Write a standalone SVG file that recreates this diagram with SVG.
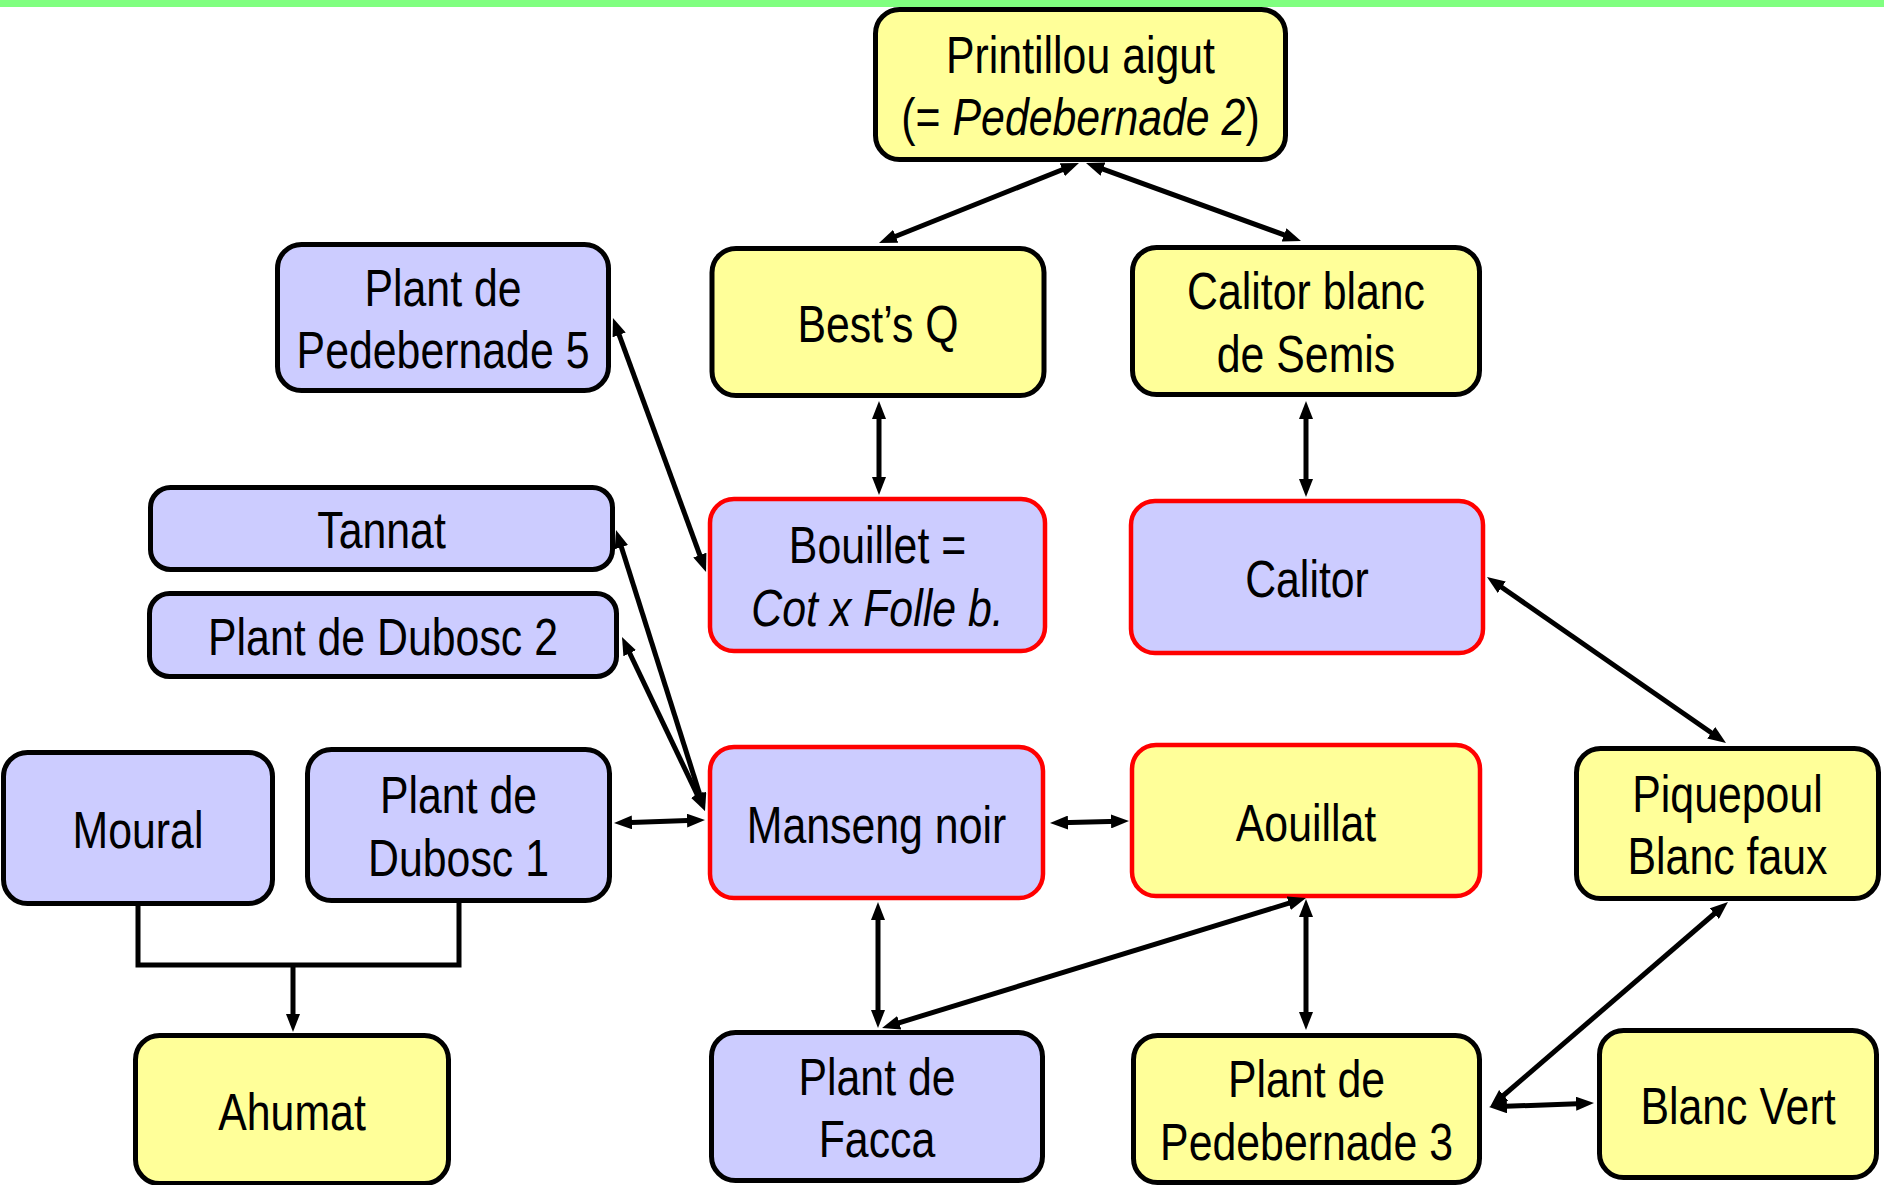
<svg xmlns="http://www.w3.org/2000/svg" width="1884" height="1185" viewBox="0 0 1884 1185">
<style>
.y{fill:#FFFF99;stroke:#000;stroke-width:5}
.b{fill:#CCCCFF;stroke:#000;stroke-width:5}
.r{stroke:#FF0000;stroke-width:4.5}
.t{font-family:"Liberation Sans",Arial,sans-serif;font-size:51px;fill:#000;text-anchor:middle}
.i{font-style:italic}
.c{fill:none;stroke:#000;stroke-width:5}
</style>
<defs>
<marker id="ah" viewBox="0 0 18 14" refX="8" refY="7" markerWidth="18" markerHeight="14" markerUnits="userSpaceOnUse" orient="auto-start-reverse"><path d="M0,0 L18,7 L0,14 z" fill="#000"/></marker>
</defs>
<rect x="0" y="0" width="1884" height="7" fill="#80FF80"/>

<g id="printillou"><rect class="y" x="875.5" y="9.5" width="410" height="150" rx="24"/>
<text class="t" transform="translate(1080.5,72.5) scale(0.84,1)"><tspan x="0" y="0">Printillou aigut</tspan><tspan x="0" y="63">(= <tspan class="i">Pedebernade 2</tspan>)</tspan></text></g>

<g id="pedebernade5"><rect class="b" x="277.5" y="244.5" width="331" height="146" rx="24"/>
<text class="t" transform="translate(443,305.5) scale(0.84,1)"><tspan x="0" y="0">Plant de</tspan><tspan x="0" y="63">Pedebernade 5</tspan></text></g>

<g id="bestsq"><rect class="y" x="712" y="248.5" width="332" height="147" rx="24"/>
<text class="t" transform="translate(878,342) scale(0.84,1)">Best’s Q</text></g>

<g id="calitorblanc"><rect class="y" x="1132.5" y="247.5" width="347" height="147" rx="24"/>
<text class="t" transform="translate(1306,309) scale(0.84,1)"><tspan x="0" y="0">Calitor blanc</tspan><tspan x="0" y="63">de Semis</tspan></text></g>

<g id="tannat"><rect class="b" x="150.5" y="487.5" width="462" height="82" rx="20"/>
<text class="t" transform="translate(381.5,548) scale(0.84,1)">Tannat</text></g>

<g id="bouillet"><rect class="b r" x="710" y="499" width="335" height="152" rx="24"/>
<text class="t" transform="translate(877.5,563) scale(0.84,1)"><tspan x="0" y="0">Bouillet =</tspan><tspan class="i" x="0" y="63">Cot x Folle b.</tspan></text></g>

<g id="calitor"><rect class="b r" x="1131" y="501" width="352" height="152" rx="24"/>
<text class="t" transform="translate(1307,597) scale(0.84,1)">Calitor</text></g>

<g id="dubosc2"><rect class="b" x="149.5" y="593.5" width="467" height="83" rx="20"/>
<text class="t" transform="translate(383,655) scale(0.84,1)">Plant de Dubosc 2</text></g>

<g id="moural"><rect class="b" x="3.5" y="752.5" width="269" height="151" rx="24"/>
<text class="t" transform="translate(138,848) scale(0.84,1)">Moural</text></g>

<g id="dubosc1"><rect class="b" x="307.5" y="749.5" width="302" height="151" rx="24"/>
<text class="t" transform="translate(458.5,813) scale(0.84,1)"><tspan x="0" y="0">Plant de</tspan><tspan x="0" y="63">Dubosc 1</tspan></text></g>

<g id="manseng"><rect class="b r" x="710" y="747" width="333" height="151" rx="24"/>
<text class="t" transform="translate(876.5,843) scale(0.84,1)">Manseng noir</text></g>

<g id="aouillat"><rect class="y r" x="1132" y="745" width="348" height="151" rx="24"/>
<text class="t" transform="translate(1306,841) scale(0.84,1)">Aouillat</text></g>

<g id="piquepoul"><rect class="y" x="1576.5" y="748.5" width="302" height="150" rx="24"/>
<text class="t" transform="translate(1727.5,811.5) scale(0.84,1)"><tspan x="0" y="0">Piquepoul</tspan><tspan x="0" y="63">Blanc faux</tspan></text></g>

<g id="ahumat"><rect class="y" x="135.5" y="1035.5" width="313" height="148" rx="24"/>
<text class="t" transform="translate(292,1130) scale(0.84,1)">Ahumat</text></g>

<g id="facca"><rect class="b" x="711.5" y="1032.5" width="331" height="148" rx="24"/>
<text class="t" transform="translate(877,1094.5) scale(0.84,1)"><tspan x="0" y="0">Plant de</tspan><tspan x="0" y="63">Facca</tspan></text></g>

<g id="pedebernade3"><rect class="y" x="1133.5" y="1035.5" width="346" height="147" rx="24"/>
<text class="t" transform="translate(1306.5,1097) scale(0.84,1)"><tspan x="0" y="0">Plant de</tspan><tspan x="0" y="63">Pedebernade 3</tspan></text></g>

<g id="blancvert"><rect class="y" x="1599.5" y="1030.5" width="277" height="147" rx="24"/>
<text class="t" transform="translate(1738,1124) scale(0.84,1)">Blanc Vert</text></g>

<g id="connectors">
<line class="c" x1="1069.7" y1="166.7" x2="888.3" y2="239.3" marker-start="url(#ah)" marker-end="url(#ah)"/>
<line class="c" x1="1095.4" y1="166.4" x2="1291.6" y2="237.6" marker-start="url(#ah)" marker-end="url(#ah)"/>
<line class="c" x1="879" y1="411" x2="879" y2="485" marker-start="url(#ah)" marker-end="url(#ah)"/>
<line class="c" x1="1306" y1="411" x2="1306" y2="487" marker-start="url(#ah)" marker-end="url(#ah)"/>
<line class="c" x1="616.4" y1="327.4" x2="702.6" y2="562.6" marker-start="url(#ah)" marker-end="url(#ah)"/>
<line class="c" x1="619" y1="539.5" x2="702" y2="801.5" marker-start="url(#ah)" marker-end="url(#ah)"/>
<line class="c" x1="626.3" y1="646" x2="700.7" y2="802" marker-start="url(#ah)" marker-end="url(#ah)"/>
<line class="c" x1="624" y1="822.7" x2="695" y2="820.3" marker-start="url(#ah)" marker-end="url(#ah)"/>
<line class="c" x1="1060" y1="822.8" x2="1119" y2="821.2" marker-start="url(#ah)" marker-end="url(#ah)"/>
<line class="c" x1="1495.2" y1="582.7" x2="1717.8" y2="737.3" marker-start="url(#ah)" marker-end="url(#ah)"/>
<line class="c" x1="878" y1="912" x2="878" y2="1018" marker-start="url(#ah)" marker-end="url(#ah)"/>
<line class="c" x1="1296.4" y1="900.9" x2="891.6" y2="1025.1" marker-start="url(#ah)" marker-end="url(#ah)"/>
<line class="c" x1="1306" y1="909" x2="1306" y2="1020" marker-start="url(#ah)" marker-end="url(#ah)"/>
<line class="c" x1="1720.4" y1="908.5" x2="1497.6" y2="1100.5" marker-start="url(#ah)" marker-end="url(#ah)"/>
<line class="c" x1="1499" y1="1106.6" x2="1584" y2="1103.4" marker-start="url(#ah)" marker-end="url(#ah)"/>
<polyline class="c" points="138,904 138,965 459,965 459,901"/>
<line class="c" x1="293" y1="965" x2="293" y2="1022" marker-end="url(#ah)"/>
</g>
</svg>
